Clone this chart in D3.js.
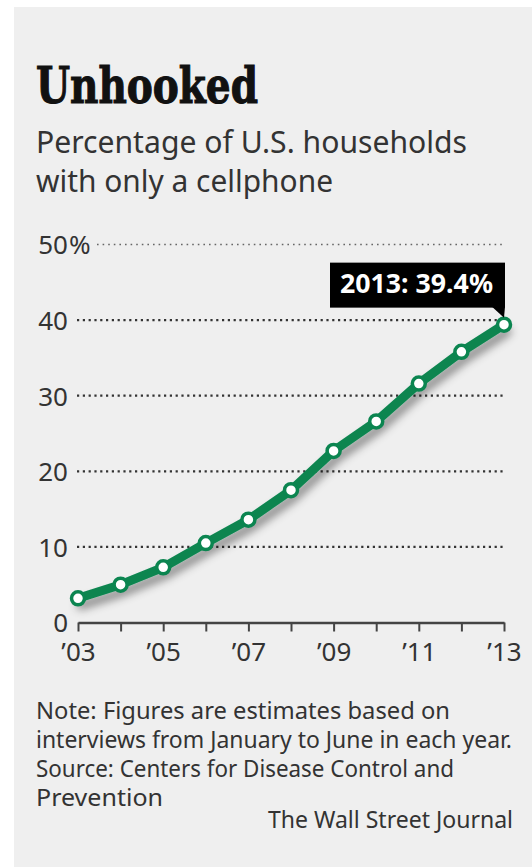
<!DOCTYPE html>
<html>
<head>
<meta charset="utf-8">
<script src="https://cdn.jsdelivr.net/npm/d3@7"></script>
<style>
  html, body { margin: 0; padding: 0; background: #fff; }
  svg { display: block; }
  text { font-family: "Noto Sans", "Open Sans", sans-serif; fill: #222; }
</style>
</head>
<body>
<svg width="532" height="867"></svg>
<script>
// data
const years = [2003, 2004, 2005, 2006, 2007, 2008, 2009, 2010, 2011, 2012, 2013]
const shares = [3.2, 5.0, 7.3, 10.5, 13.6, 17.5, 22.7, 26.6, 31.6, 35.8, 39.4]
const yTicks = [0, 10, 20, 30, 40, 50]
const noteLines = [
  'Note: Figures are estimates based on',
  'interviews from January to June in each year.',
  'Source: Centers for Disease Control and',
  'Prevention',
]

const svg = d3.select('svg')
const green = '#0b8550'

// panel
svg.append('rect')
  .attr('x', 14).attr('y', 7)
  .attr('width', 518).attr('height', 860)
  .attr('fill', '#efefef')

// title + subtitle
svg.append('text')
  .attr('x', 36).attr('y', 103)
  .attr('textLength', 222).attr('lengthAdjust', 'spacingAndGlyphs')
  .style('font-family', '"DejaVu Serif", serif')
  .style('font-weight', 'bold')
  .style('font-size', '51px')
  .style('fill', '#111')
  .style('stroke', '#111')
  .style('stroke-width', 1.2)
  .text('Unhooked')

const sub = ['Percentage of U.S. households', 'with only a cellphone']
const subLen = [431, 297]
sub.forEach((s, i) => {
  svg.append('text')
    .attr('x', 36).attr('y', 153 + i * 39)
    .attr('textLength', subLen[i]).attr('lengthAdjust', 'spacingAndGlyphs')
    .style('font-size', '30px')
    .style('fill', '#333')
    .text(s)
})

// scales
const x = d3.scaleLinear().domain([2003, 2013]).range([78, 504])
const y = d3.scaleLinear().domain([0, 50]).range([622.5, 244.5])

// dotted gridlines
svg.append('g')
  .selectAll('line')
  .data(yTicks.filter((d) => d > 0))
  .join('line')
  .attr('x1', (d) => (d === 50 ? 97 : 77))
  .attr('x2', 504)
  .attr('y1', (d) => y(d))
  .attr('y2', (d) => y(d))
  .attr('stroke', (d) => (d === 50 ? '#666' : '#333'))
  .attr('stroke-width', (d) => (d === 50 ? 1.6 : 2.2))
  .attr('stroke-dasharray', (d) => (d === 50 ? '1.6,4' : '2.2,3.6'))

// y axis labels
const yAxis = svg.append('g')
  .attr('transform', 'translate(70,0)')
  .call(d3.axisLeft(y).tickValues(yTicks).tickSize(0).tickPadding(2))
yAxis.select('.domain').remove()
yAxis.selectAll('text')
  .attr('dy', '0.36em')
  .style('font-size', '26px')
  .style('font-family', '"Noto Sans", sans-serif')
  .style('fill', '#333')
yAxis.append('text')
  .attr('x', -1).attr('y', y(50)).attr('dy', '0.36em')
  .attr('text-anchor', 'start')
  .style('font-size', '26px')
  .style('fill', '#333')
  .text('%')

// x axis
const xAxis = svg.append('g')
  .attr('transform', `translate(0,${y(0)})`)
  .call(d3.axisBottom(x)
    .tickValues(years)
    .tickSize(9)
    .tickSizeOuter(0)
    .tickPadding(11)
    .tickFormat((d) => (d % 2 ? '\u2019' + String(d).slice(2) : '')))
xAxis.select('.domain')
  .attr('stroke', '#444').attr('stroke-width', 2.6)
xAxis.selectAll('.tick line')
  .attr('stroke', '#444').attr('stroke-width', 2)
xAxis.selectAll('text')
  .style('font-size', '26px')
  .style('font-family', '"Noto Sans", sans-serif')
  .style('fill', '#333')

// line with shadow
const defs = svg.append('defs')
const f = defs.append('filter').attr('id', 'shadow')
  .attr('x', '-10%').attr('y', '-10%').attr('width', '130%').attr('height', '140%')
f.append('feDropShadow')
  .attr('dx', 3).attr('dy', 7).attr('stdDeviation', 4)
  .attr('flood-color', '#000').attr('flood-opacity', 0.42)

const pts = years.map((yr, i) => [yr, shares[i]])
const line = d3.line().x((d) => x(d[0])).y((d) => y(d[1]))

svg.append('path')
  .datum(pts)
  .attr('d', line)
  .attr('fill', 'none')
  .attr('stroke', green)
  .attr('stroke-width', 9)
  .attr('stroke-linejoin', 'round')
  .attr('stroke-linecap', 'round')
  .attr('filter', 'url(#shadow)')

svg.append('g')
  .selectAll('circle')
  .data(pts)
  .join('circle')
  .attr('cx', (d) => x(d[0]))
  .attr('cy', (d) => y(d[1]))
  .attr('r', 6.5)
  .attr('fill', '#fff')
  .attr('stroke', green)
  .attr('stroke-width', 3.5)

// callout for the last point
const last = pts[pts.length - 1]
const lx = x(last[0])
const ly = y(last[1])
const callout = svg.append('g')
callout.append('rect')
  .attr('x', lx - 174).attr('y', ly - 62)
  .attr('width', 175).attr('height', 45)
  .attr('fill', '#000')
callout.append('path')
  .attr('d', `M${lx - 12},${ly - 18} L${lx + 1},${ly - 18} L${lx},${ly - 7} Z`)
  .attr('fill', '#000')
callout.append('text')
  .attr('x', lx - 164).attr('y', ly - 32)
  .attr('textLength', 153).attr('lengthAdjust', 'spacingAndGlyphs')
  .style('font-size', '26px')
  .style('font-weight', 'bold')
  .style('fill', '#fff')
  .text(`${last[0]}: ${last[1]}%`)

// note + credit
const noteLen = [414, 476, 418, 127]
noteLines.forEach((s, i) => {
  svg.append('text')
    .attr('x', 36).attr('y', 719 + i * 29)
    .attr('textLength', noteLen[i]).attr('lengthAdjust', 'spacingAndGlyphs')
    .style('font-size', '23px')
    .style('fill', '#333')
    .text(s)
})

svg.append('text')
  .attr('x', 513).attr('y', 828)
  .attr('text-anchor', 'end')
  .attr('textLength', 245).attr('lengthAdjust', 'spacingAndGlyphs')
  .style('font-size', '23px')
  .style('fill', '#333')
  .text('The Wall Street Journal')
</script>
</body>
</html>
